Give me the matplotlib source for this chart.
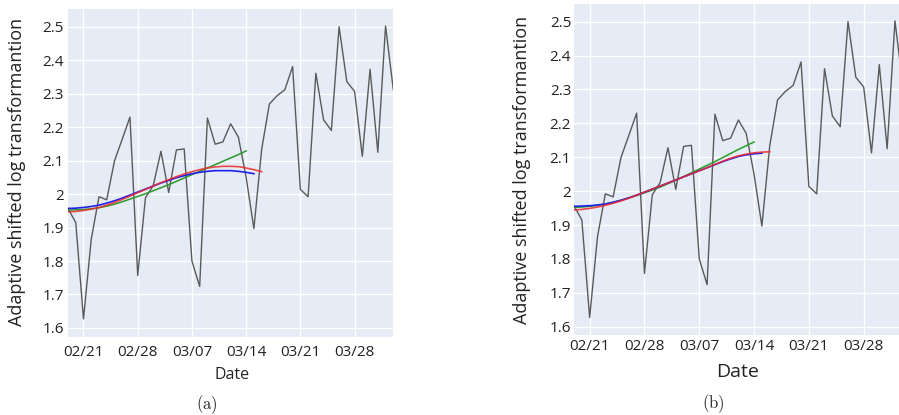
import matplotlib
matplotlib.use("Agg")
import matplotlib.pyplot as plt
import pandas as pd

# ---------------- data ----------------
start_date = "2021-02-19"
observed = [1.957, 1.915, 1.627, 1.865, 1.992, 1.983, 2.099, 2.164, 2.230, 1.757,
            1.989, 2.025, 2.128, 2.005, 2.132, 2.135, 1.800, 1.724, 2.227, 2.149,
            2.156, 2.210, 2.170, 2.050, 1.897, 2.133, 2.269, 2.294, 2.312, 2.381,
            2.014, 1.992, 2.361, 2.222, 2.190, 2.500, 2.336, 2.307, 2.113, 2.373,
            2.125, 2.502, 2.312]

# panel (a) fitted curves (daily from 02/19)
a_blue = [1.957, 1.958, 1.960, 1.963, 1.967, 1.973, 1.980, 1.988, 1.997, 2.006,
          2.015, 2.024, 2.033, 2.041, 2.049, 2.055, 2.061, 2.065, 2.068, 2.070,
          2.070, 2.070, 2.068, 2.065, 2.061]
a_red = [1.947, 1.948, 1.951, 1.955, 1.960, 1.967, 1.975, 1.984, 1.994, 2.004,
         2.014, 2.024, 2.034, 2.043, 2.052, 2.060, 2.067, 2.073, 2.078, 2.081,
         2.083, 2.083, 2.082, 2.078, 2.073, 2.067]
a_green = [1.952, 1.953, 1.954, 1.956, 1.959, 1.964, 1.970, 1.977, 1.985, 1.993,
           2.001, 2.010, 2.019, 2.028, 2.038, 2.048, 2.058, 2.068, 2.078, 2.088,
           2.098, 2.108, 2.118, 2.129]

# panel (b) fitted curves (daily from 02/19)
b_blue = [1.955, 1.956, 1.957, 1.959, 1.962, 1.967, 1.973, 1.980, 1.988, 1.997,
          2.006, 2.015, 2.024, 2.033, 2.042, 2.051, 2.060, 2.069, 2.078, 2.087,
          2.095, 2.102, 2.107, 2.110, 2.112]
b_red = [1.944, 1.946, 1.949, 1.953, 1.958, 1.964, 1.971, 1.979, 1.988, 1.997,
         2.006, 2.015, 2.024, 2.033, 2.042, 2.051, 2.060, 2.069, 2.079, 2.088,
         2.097, 2.104, 2.109, 2.113, 2.115, 2.116]
b_green = [1.952, 1.953, 1.955, 1.958, 1.962, 1.967, 1.973, 1.980, 1.987, 1.995,
           2.003, 2.012, 2.022, 2.032, 2.043, 2.054, 2.065, 2.076, 2.087, 2.099,
           2.111, 2.123, 2.134, 2.145]

x_tick_dates = ["2021-02-21", "2021-02-28", "2021-03-07", "2021-03-14", "2021-03-21", "2021-03-28"]
x_tick_labels = ["02/21", "02/28", "03/07", "03/14", "03/21", "03/28"]
y_ticks = [1.6, 1.7, 1.8, 1.9, 2.0, 2.1, 2.2, 2.3, 2.4, 2.5]
y_tick_labels = ["1.6", "1.7", "1.8", "1.9", "2", "2.1", "2.2", "2.3", "2.4", "2.5"]
y_label = "Adaptive shifted log transformantion"
x_label = "Date"

# ---------------- figure ----------------
plt.rcParams['font.family'] = ['Open Sans', 'DejaVu Sans']
plt.rcParams['mathtext.fontset'] = 'cm'

W, H = 899, 415
fig = plt.figure(figsize=(W / 100, H / 100), dpi=100)

dates = pd.date_range(start_date, periods=len(observed), freq="D")
tick_pos = pd.to_datetime(x_tick_dates)


def px_axes(left, top, right, bottom):
    return fig.add_axes([left / W, (H - bottom) / H, (right - left) / W, (bottom - top) / H])


def style(ax, ylim, xpad, ypad):
    ax.set_facecolor('#E5ECF6')
    for s in ax.spines.values():
        s.set_visible(False)
    ax.set_xlim(dates[0], dates[-1])
    ax.set_ylim(*ylim)
    ax.set_xticks(tick_pos)
    ax.set_xticklabels(x_tick_labels)
    ax.set_yticks(y_ticks)
    ax.set_yticklabels(y_tick_labels)
    ax.tick_params(axis='both', length=0, labelsize=11, colors='#222222')
    ax.tick_params(axis='x', pad=xpad)
    ax.tick_params(axis='y', pad=ypad)
    ax.grid(True, color='white', linewidth=1.0)
    ax.set_axisbelow(True)


def draw(ax, blue, red, green):
    ax.plot(dates, observed, color='#5a5a5a', linewidth=1.0, zorder=3)
    ax.plot(dates[:len(green)], green, color='#2a9a2a', linewidth=1.1, zorder=4)
    ax.plot(dates[:len(blue)], blue, color='#2020ee', linewidth=1.2, zorder=5)
    ax.plot(dates[:len(red)], red, color='#ee2a2a', linewidth=1.2, alpha=0.85, zorder=6)


ax1 = px_axes(68, 9, 393.3, 337)
style(ax1, (1.573, 2.553), xpad=6.0, ypad=3.0)
draw(ax1, a_blue, a_red, a_green)

ax2 = px_axes(574, 4, 902.8, 335)
style(ax2, (1.5755, 2.552), xpad=3.0, ypad=2.0)
draw(ax2, b_blue, b_red, b_green)

# axis titles (placed in pixel coordinates)
fig.text(17 / W, 1 - 172 / H, y_label, rotation=90, ha='center', va='center',
         fontsize=13, color='#222222')
fig.text(522 / W, 1 - 170 / H, y_label, rotation=90, ha='center', va='center',
         fontsize=13, color='#222222')
fig.text(232 / W, 1 - 375 / H, x_label, ha='center', va='center', fontsize=11.5, color='#222222')
fig.text(738 / W, 1 - 372 / H, x_label, ha='center', va='center', fontsize=14, color='#222222')

fig.text(207 / W, 1 - 405 / H, r'$\mathrm{(a)}$', ha='center', va='center', fontsize=12, color='#222222')
fig.text(713 / W, 1 - 404 / H, r'$\mathrm{(b)}$', ha='center', va='center', fontsize=12, color='#222222')

fig.savefig("out.png", dpi=100)
